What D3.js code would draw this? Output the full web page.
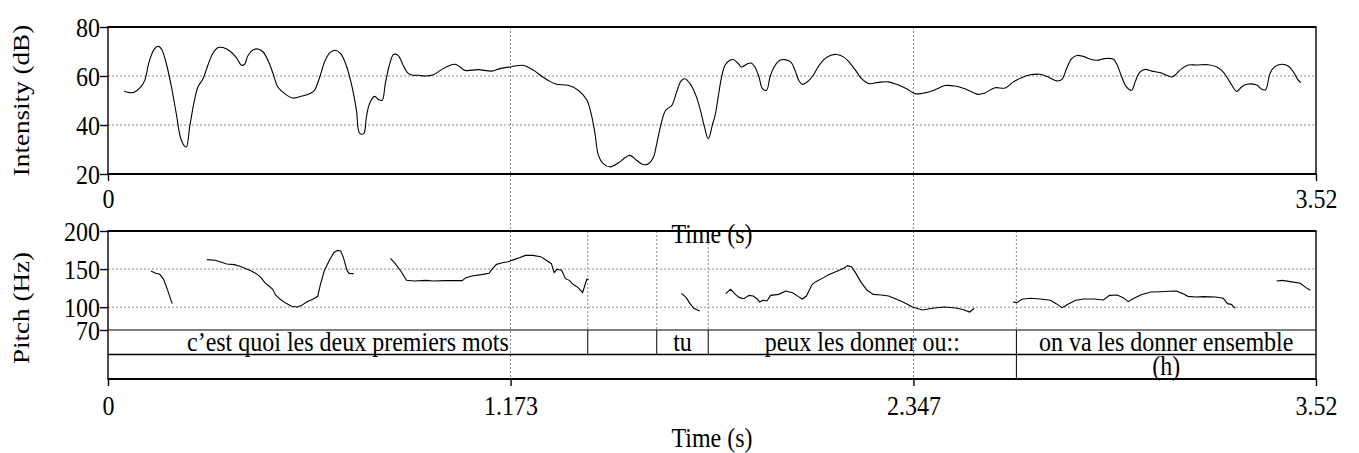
<!DOCTYPE html>
<html>
<head>
<meta charset="utf-8">
<script src="https://cdn.jsdelivr.net/npm/d3@7"></script>
<style>
  html, body { margin: 0; padding: 0; background: #fff; }
  svg { display: block; font-family: "Liberation Serif", "Times New Roman", serif; }
</style>
</head>
<body>
<svg id="chart" width="1359" height="453"></svg>
<script>
// Intensity contour: [time (s), intensity (dB)]
const intensity = [
  [0.047,53.9],[0.063,53.2],[0.078,53.5],[0.097,55.8],[0.107,58.2],[0.121,66.4],[0.136,71.2],[0.148,72.1],
  [0.157,70.7],[0.170,65.0],[0.185,55.5],[0.199,44.6],[0.214,33.7],[0.228,31.0],[0.238,39.2],[0.251,49.4],
  [0.262,55.5],[0.277,58.9],[0.291,64.4],[0.306,69.4],[0.321,71.6],[0.335,71.6],[0.355,70.2],[0.374,67.5],
  [0.389,64.4],[0.398,64.8],[0.408,68.4],[0.423,70.7],[0.437,71.0],[0.452,69.8],[0.466,66.4],[0.481,61.0],
  [0.495,55.5],[0.515,52.8],[0.539,51.0],[0.563,51.7],[0.592,53.1],[0.602,54.2],[0.617,59.6],[0.631,65.7],
  [0.646,69.4],[0.662,70.5],[0.678,69.1],[0.694,64.4],[0.709,56.9],[0.724,46.0],[0.733,36.7],[0.745,36.5],
  [0.753,43.3],[0.762,48.7],[0.777,51.7],[0.789,50.3],[0.799,50.1],[0.808,56.9],[0.821,65.0],[0.832,68.8],
  [0.845,68.4],[0.860,64.4],[0.874,61.2],[0.889,60.3],[0.903,60.3],[0.924,60.0],[0.948,60.5],[0.972,62.6],
  [0.992,64.1],[1.011,64.8],[1.026,63.7],[1.040,62.3],[1.079,62.6],[1.118,62.0],[1.142,63.0],[1.176,63.8],
  [1.205,64.4],[1.220,63.9],[1.244,62.0],[1.264,59.9],[1.283,58.2],[1.307,56.6],[1.341,56.2],[1.371,54.1],
  [1.395,50.3],[1.409,43.9],[1.419,36.5],[1.429,27.6],[1.443,24.2],[1.463,22.9],[1.487,24.5],[1.507,26.7],
  [1.521,27.6],[1.540,25.6],[1.560,23.8],[1.575,24.2],[1.589,26.7],[1.599,32.4],[1.613,41.2],[1.625,46.0],
  [1.643,48.0],[1.657,53.5],[1.670,58.0],[1.681,58.9],[1.696,56.9],[1.711,52.8],[1.725,46.7],[1.738,39.2],
  [1.749,34.4],[1.762,40.5],[1.769,43.9],[1.778,51.4],[1.788,59.6],[1.798,64.4],[1.812,66.4],[1.822,66.7],
  [1.837,65.0],[1.846,63.7],[1.861,64.8],[1.874,65.3],[1.885,63.7],[1.897,59.6],[1.907,54.8],[1.919,54.2],
  [1.929,59.6],[1.942,63.9],[1.958,66.4],[1.973,66.7],[1.990,65.7],[2.002,62.3],[2.013,58.2],[2.023,56.6],
  [2.041,58.0],[2.055,60.3],[2.070,63.9],[2.089,67.1],[2.109,68.6],[2.123,68.8],[2.143,67.8],[2.162,65.3],
  [2.182,61.6],[2.196,58.9],[2.217,56.9],[2.245,57.4],[2.274,57.6],[2.298,56.6],[2.327,54.8],[2.352,52.8],
  [2.381,53.1],[2.410,54.4],[2.439,56.1],[2.468,55.9],[2.497,54.8],[2.536,52.5],[2.555,53.1],[2.585,55.2],
  [2.614,55.1],[2.638,57.6],[2.662,59.3],[2.687,60.5],[2.716,60.7],[2.740,59.6],[2.764,58.0],[2.779,58.5],
  [2.793,63.0],[2.808,67.1],[2.823,68.4],[2.842,68.0],[2.861,66.9],[2.881,66.4],[2.905,67.1],[2.929,66.9],
  [2.939,65.0],[2.954,59.6],[2.968,55.5],[2.983,54.2],[2.993,57.6],[3.007,61.6],[3.022,62.7],[3.041,62.0],
  [3.065,61.4],[3.085,60.3],[3.101,59.6],[3.114,61.0],[3.129,63.0],[3.148,64.5],[3.172,64.5],[3.206,64.6],
  [3.231,63.7],[3.250,61.6],[3.269,57.6],[3.289,53.7],[3.303,55.5],[3.318,56.6],[3.347,56.3],[3.362,54.6],
  [3.373,54.4],[3.386,61.0],[3.399,63.7],[3.420,64.8],[3.441,63.9],[3.457,61.0],[3.467,58.5],[3.476,57.3]
];

// Voiced stretches of the pitch track: [time (s), F0 (Hz)]
const pitchSegments = [
  [[0.125,147.5],[0.139,144.4],[0.151,143.1],[0.162,136.5],[0.173,123.4],[0.181,112.5],[0.187,104.6]],
  [[0.288,162.4],[0.312,161.5],[0.329,159.3],[0.346,156.7],[0.368,155.8],[0.385,153.6],[0.402,150.5],[0.418,147.5],
   [0.435,143.1],[0.446,138.7],[0.457,132.2],[0.469,127.8],[0.480,123.4],[0.488,116.0],[0.502,110.3],[0.519,105.0],
   [0.535,101.1],[0.552,100.2],[0.563,102.0],[0.580,107.2],[0.597,110.3],[0.611,114.2],[0.619,130.0],[0.630,147.5],
   [0.645,161.5],[0.658,171.5],[0.669,174.6],[0.678,173.7],[0.686,165.0],[0.697,147.5],[0.703,144.4],[0.716,144.0]],
  [[0.823,164.1],[0.837,157.1],[0.853,147.5],[0.870,135.2],[0.892,134.3],[0.926,135.2],[0.948,134.3],[0.982,134.8],
   [1.032,134.8],[1.043,138.7],[1.060,140.9],[1.088,142.7],[1.110,144.4],[1.121,151.0],[1.132,156.2],[1.149,158.4],
   [1.166,159.7],[1.183,162.4],[1.199,165.0],[1.216,168.0],[1.238,168.0],[1.261,166.3],[1.277,161.5],[1.292,157.1],
   [1.300,145.3],[1.308,149.7],[1.322,148.4],[1.333,137.4],[1.344,135.2],[1.355,130.0],[1.370,125.6],[1.383,119.0],
   [1.389,127.8],[1.395,136.5],[1.400,136.5]],
  [[1.671,118.2],[1.685,112.5],[1.696,104.6],[1.707,98.5],[1.724,95.0]],
  [[1.800,117.7],[1.814,123.4],[1.828,116.8],[1.840,112.5],[1.853,111.1],[1.868,115.5],[1.880,114.6],[1.891,111.1],
   [1.899,106.8],[1.908,109.0],[1.920,108.1],[1.931,115.5],[1.954,116.8],[1.975,121.2],[1.995,119.0],[2.012,113.8],
   [2.023,110.7],[2.035,114.6],[2.052,130.0],[2.063,133.5],[2.081,137.8],[2.103,143.1],[2.126,147.5],[2.144,151.0],
   [2.155,154.5],[2.167,152.7],[2.178,145.3],[2.195,132.2],[2.212,122.1],[2.230,116.8],[2.253,116.0],[2.275,114.6],
   [2.298,110.3],[2.321,105.9],[2.344,100.2],[2.373,96.3],[2.402,98.5],[2.436,100.2],[2.470,98.9],[2.493,96.7],
   [2.511,93.6],[2.524,98.5]],
  [[2.637,106.8],[2.648,105.9],[2.663,110.3],[2.688,111.6],[2.717,110.7],[2.746,109.0],[2.763,104.6],[2.780,99.3],
   [2.797,103.7],[2.820,109.0],[2.843,110.7],[2.872,110.7],[2.901,109.4],[2.918,115.5],[2.941,116.0],[2.958,112.5],
   [2.973,107.2],[2.987,111.1],[3.009,116.0],[3.038,119.9],[3.067,120.3],[3.090,120.8],[3.113,121.2],[3.130,118.1],
   [3.147,114.2],[3.170,113.3],[3.193,113.8],[3.227,113.3],[3.250,111.6],[3.262,104.6],[3.273,103.7],[3.285,98.5]],
  [[3.405,134.3],[3.422,135.2],[3.445,133.5],[3.474,131.3],[3.491,125.6],[3.503,122.1]]
];

// TextGrid tiers: interval start/end (s) and label
const wordTier = [
  { start: 0,     end: 1.398, text: "c\u2019est quoi les deux premiers mots" },
  { start: 1.398, end: 1.599, text: "" },
  { start: 1.599, end: 1.749, text: "tu" },
  { start: 1.749, end: 2.647, text: "peux les donner ou::" },
  { start: 2.647, end: 3.52,  text: "on va les donner ensemble" }
];
const soundTier = [
  { start: 0,     end: 2.647, text: "" },
  { start: 2.647, end: 3.52,  text: "(h)" }
];

const timeDomain = [0, 3.52];
const intensityDomain = [20, 80];
const pitchDomain = [70, 200];
const intensityTicks = [20, 40, 60, 80];
const intensityGrid = [40, 60];
const pitchTicks = [70, 100, 150, 200];
const pitchGrid = [100, 150];
const timeTicksTop = [0, 3.52];
const timeTicksBottom = [0, 1.173, 2.347, 3.52];
const timeGrid = [1.173, 2.347];

const svg = d3.select("#chart");
const STRETCH = 1.13;       // glyphs are drawn slightly taller than wide
const FONT = 24;

const left = 108, right = 1316;
const intTop = 27, intBottom = 174;
const pitchTop = 231, pitchBottom = 330;
const tierMid = 354.5, tierBottom = 379;

const x = d3.scaleLinear().domain(timeDomain).range([left, right]);
const yI = d3.scaleLinear().domain(intensityDomain).range([intBottom, intTop]);
const yP = d3.scaleLinear().domain(pitchDomain).range([pitchBottom, pitchTop]);

const gridStyle = sel => sel.attr("stroke", "#8c8c8c").attr("stroke-width", 1).attr("stroke-dasharray", "2,2").attr("fill", "none");

// ---- dotted grid ----
const grid = svg.append("g");
grid.selectAll(".hgI").data(intensityGrid).join("line")
  .attr("x1", left).attr("x2", right).attr("y1", d => yI(d)).attr("y2", d => yI(d)).call(gridStyle);
grid.selectAll(".hgP").data(pitchGrid).join("line")
  .attr("x1", left).attr("x2", right).attr("y1", d => yP(d)).attr("y2", d => yP(d)).call(gridStyle);
grid.selectAll(".vg").data(timeGrid).join("line")
  .attr("x1", d => x(d)).attr("x2", d => x(d)).attr("y1", intTop).attr("y2", tierBottom).call(gridStyle);

// interval boundaries shown through the pitch area
const wordBounds = wordTier.slice(1).map(d => d.start);
const soundBounds = soundTier.slice(1).map(d => d.start);
grid.selectAll(".vb").data(wordBounds).join("line")
  .attr("x1", d => x(d)).attr("x2", d => x(d)).attr("y1", pitchTop).attr("y2", pitchBottom).call(gridStyle);

// ---- intensity contour ----
svg.append("path").datum(intensity)
  .attr("fill", "none").attr("stroke", "#000").attr("stroke-width", 1.1)
  .attr("d", d3.line().x(d => x(d[0])).y(d => yI(d[1])).curve(d3.curveCatmullRom.alpha(0.5)));

// ---- pitch track ----
svg.append("g").selectAll("path").data(pitchSegments).join("path")
  .attr("fill", "none").attr("stroke", "#000").attr("stroke-width", 1.1)
  .attr("d", d3.line().x(d => x(d[0])).y(d => yP(d[1])));

// ---- tier boundaries and labels ----
const tiers = svg.append("g");
tiers.selectAll(".wb").data(wordBounds).join("line")
  .attr("x1", d => x(d)).attr("x2", d => x(d)).attr("y1", pitchBottom).attr("y2", tierMid)
  .attr("stroke", "#000").attr("stroke-width", 1);
tiers.selectAll(".sb").data(soundBounds).join("line")
  .attr("x1", d => x(d)).attr("x2", d => x(d)).attr("y1", tierMid).attr("y2", tierBottom)
  .attr("stroke", "#000").attr("stroke-width", 1);

function stretchedText(g, cx, cy, txt, rotate) {
  const t = g.append("text")
    .attr("text-anchor", "middle")
    .attr("font-size", FONT)
    .attr("fill", "#000")
    .text(txt);
  if (rotate) t.attr("transform", `translate(${cx},${cy}) rotate(-90) scale(${STRETCH},1)`);
  else t.attr("transform", `translate(${cx},${cy}) scale(1,${STRETCH})`);
  return t;
}
wordTier.filter(d => d.text).forEach(d => stretchedText(tiers, (x(d.start) + x(d.end)) / 2, 351, d.text));
soundTier.filter(d => d.text).forEach(d => stretchedText(tiers, (x(d.start) + x(d.end)) / 2, 375, d.text));

// ---- frames ----
const frame = svg.append("g").attr("stroke", "#000").attr("fill", "none");
[intTop, intBottom, pitchTop, tierBottom].forEach(yv =>
  frame.append("line").attr("x1", left - 0.5).attr("x2", right + 0.5).attr("y1", yv).attr("y2", yv).attr("stroke-width", 2));
[pitchBottom].forEach(yv =>
  frame.append("line").attr("x1", left).attr("x2", right).attr("y1", yv).attr("y2", yv).attr("stroke-width", 1));
frame.append("line").attr("x1", left).attr("x2", right).attr("y1", tierMid).attr("y2", tierMid).attr("stroke-width", 1.3);
[[intTop, intBottom], [pitchTop, tierBottom]].forEach(([a, b]) => {
  frame.append("line").attr("x1", left).attr("x2", left).attr("y1", a).attr("y2", b).attr("stroke-width", 1.4);
  frame.append("line").attr("x1", right).attr("x2", right).attr("y1", a).attr("y2", b).attr("stroke-width", 1.4);
});

// ---- axes ----
function styleAxis(g) {
  g.select(".domain").remove();
  g.selectAll(".tick line").attr("stroke", "#000").attr("stroke-width", 1.4);
  g.selectAll("text").attr("font-size", FONT).attr("fill", "#000")
    .attr("font-family", "'Liberation Serif','Times New Roman',serif");
}
function leftAxis(scale, ticks) {
  const g = svg.append("g").attr("transform", `translate(${left},0)`)
    .call(d3.axisLeft(scale).tickValues(ticks).tickSize(8).tickPadding(0).tickFormat(d3.format("d")));
  styleAxis(g);
  g.selectAll("text").attr("x", -8).attr("dy", "0.35em").attr("transform", `scale(1,${STRETCH})`);
}
function bottomAxis(yPos, ticks, baseline) {
  const fmt = d => d === 0 ? "0" : String(d);
  const g = svg.append("g").attr("transform", `translate(0,${yPos})`)
    .call(d3.axisBottom(x).tickValues(ticks).tickSize(7).tickFormat(fmt));
  styleAxis(g);
  g.selectAll("text").attr("y", 0).attr("dy", null).attr("transform", `translate(0,${baseline}) scale(1,${STRETCH})`);
}
leftAxis(yI, intensityTicks);
leftAxis(yP, pitchTicks);
bottomAxis(intBottom, timeTicksTop, 34);
bottomAxis(tierBottom, timeTicksBottom, 36);

// ---- axis titles ----
const titles = svg.append("g");
stretchedText(titles, 29, (intTop + intBottom) / 2, "Intensity (dB)", true);
stretchedText(titles, 29, 308, "Pitch (Hz)", true);
stretchedText(titles, (left + right) / 2, 243, "Time (s)");
stretchedText(titles, (left + right) / 2, 447, "Time (s)");
</script>
</body>
</html>
